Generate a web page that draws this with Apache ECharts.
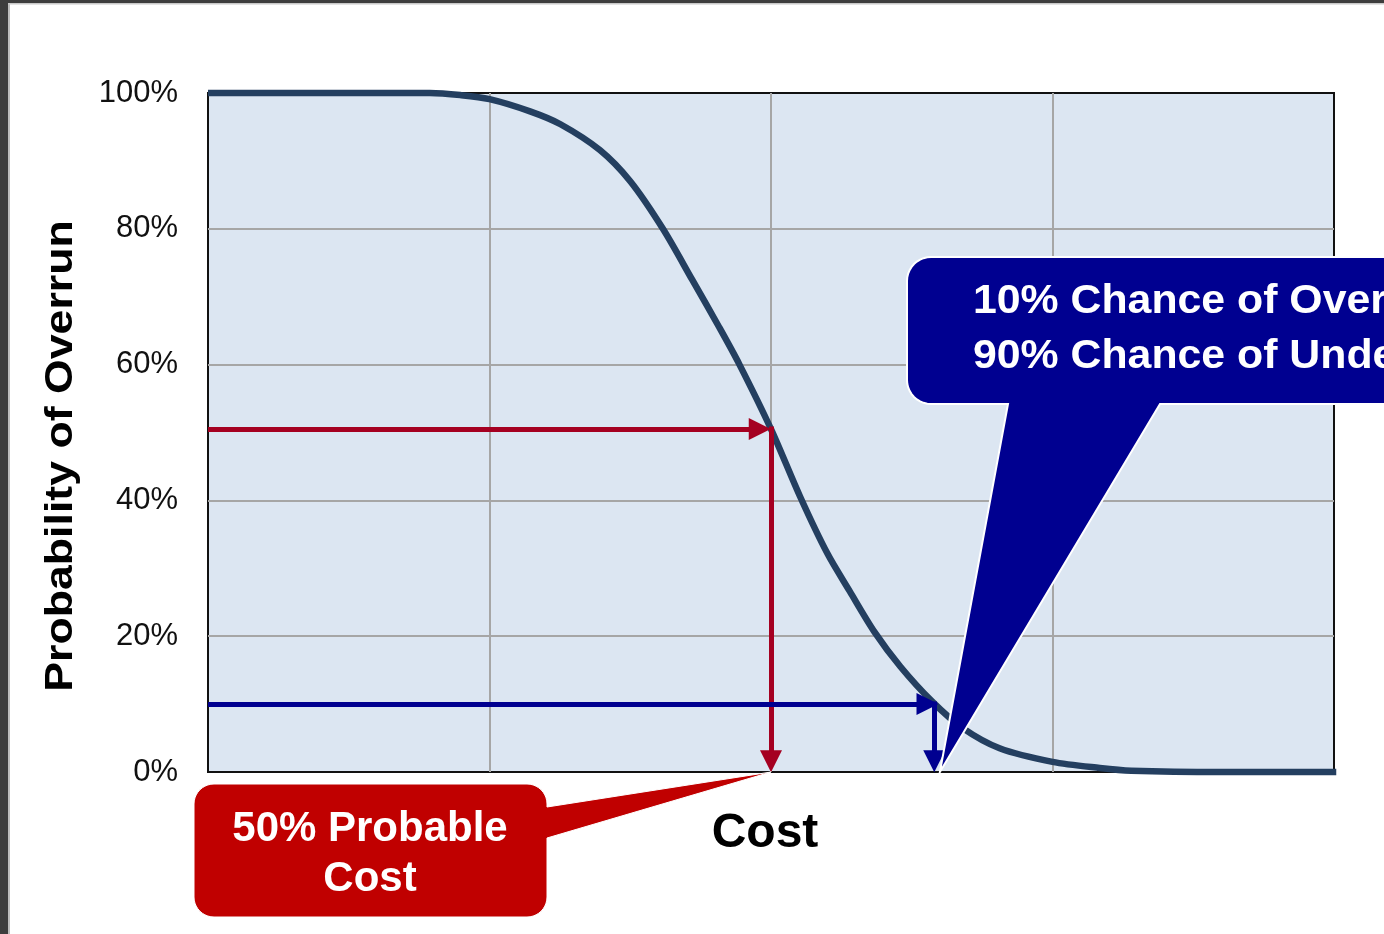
<!DOCTYPE html>
<html>
<head>
<meta charset="utf-8">
<script src="https://cdn.jsdelivr.net/npm/echarts@6/dist/echarts.min.js"></script>
<style>
html,body{margin:0;padding:0;background:#fff;}
#chart{width:1384px;height:934px;}
</style>
</head>
<body>
<div id="chart"></div>
<script>
// ---- data ----
const costX = [0, 10, 19.7, 22.4, 25, 28.6, 31.3, 34.8, 37.5, 40.4, 43.0, 45.4, 47.2, 50.0, 52.6, 55.0, 57.0, 59.2, 61.5, 64.3, 67.0, 70.3, 75, 79.2, 82, 90, 100.2];
const probY = [100, 100, 100, 99.7, 99.1, 97.3, 95.4, 91.6, 87.0, 80.0, 72.5, 65.5, 60.0, 50.5, 40.5, 32.2, 26.6, 20.6, 15.5, 10.4, 6.5, 3.5, 1.5, 0.6, 0.2, 0, 0];
const yTicks = [0, 20, 40, 60, 80, 100];
const p50Cost = 50, p50Prob = 50.5;
const p10Cost = 64.5, p10Prob = 10;
const redTip = [50, 0];
const blueTip = [65, 0];
const redText = ['50% Probable', 'Cost'];
const blueText = ['10% Chance of Overrun', '90% Chance of Underrun'];
const xName = 'Cost';
const yName = 'Probability of Overrun';

const chart = echarts.init(document.getElementById('chart'));
const FONT = '"Liberation Sans", Arial, sans-serif';

const option = {
  animation: false,
  backgroundColor: '#ffffff',
  grid: {
    left: 208, top: 93, width: 1126, height: 679,
    show: true, backgroundColor: '#DCE6F2', borderColor: '#111111', borderWidth: 2
  },
  xAxis: {
    type: 'value', min: 0, max: 100, interval: 25,
    axisLine: { show: false }, axisTick: { show: false }, axisLabel: { show: false },
    splitLine: { show: true, showMinLine: false, showMaxLine: false, lineStyle: { color: '#A6A6A6', width: 2 } }
  },
  yAxis: {
    type: 'value', min: 0, max: 100, interval: 20,
    axisLine: { show: false }, axisTick: { show: false },
    axisLabel: { formatter: v => yTicks.includes(v) ? v + '%' : '', fontSize: 31, color: '#111', fontFamily: FONT, margin: 30, padding: [6, 0, 0, 0] },
    splitLine: { show: true, showMinLine: false, showMaxLine: false, lineStyle: { color: '#A6A6A6', width: 2 } }
  },
  series: [
    {
      type: 'line', data: costX.map((x, i) => [x, probY[i]]),
      smooth: 0.3, showSymbol: false, symbol: 'none', clip: false,
      lineStyle: { color: '#243F60', width: 6.5 }, z: 3
    },
    {
      type: 'lines', coordinateSystem: 'cartesian2d', z: 4,
      symbol: ['none', 'triangle'], symbolSize: 22,
      lineStyle: { width: 5, opacity: 1 },
      data: [
        { coords: [[0, p50Prob], [p50Cost - 1.0, p50Prob]], lineStyle: { color: '#A50021' } },
        { coords: [[p50Cost, p50Prob + 0.4], [p50Cost, 1.6]], lineStyle: { color: '#A50021' } },
        { coords: [[0, p10Prob], [p10Cost - 0.6, p10Prob]], lineStyle: { color: '#000090' } },
        { coords: [[p10Cost, p10Prob + 0.4], [p10Cost, 1.6]], lineStyle: { color: '#000090' } }
      ]
    }
  ]
};
chart.setOption(option);

function callout(x0, y0, x1, y1, r, tail) {
  const pts = [];
  const arc = (cx, cy, s, e) => { for (let i = 0; i <= 10; i++) { const a = s + (e - s) * i / 10; pts.push([cx + r * Math.cos(a), cy + r * Math.sin(a)]); } };
  arc(x0 + r, y0 + r, Math.PI, 1.5 * Math.PI);
  arc(x1 - r, y0 + r, 1.5 * Math.PI, 2 * Math.PI);
  if (tail.side === 'right') { pts.push([x1, tail.a], tail.tip, [x1, tail.b]); }
  arc(x1 - r, y1 - r, 0, 0.5 * Math.PI);
  if (tail.side === 'bottom') { pts.push([tail.a, y1], tail.tip, [tail.b, y1]); }
  arc(x0 + r, y1 - r, 0.5 * Math.PI, Math.PI);
  return pts;
}

const rt = chart.convertToPixel({ gridIndex: 0 }, redTip);
const bt = chart.convertToPixel({ gridIndex: 0 }, blueTip);

chart.setOption({
  graphic: [
    { type: 'rect', shape: { x: 0, y: 0, width: 8, height: 934 }, style: { fill: '#3d3d3d' }, z: 200 },
    { type: 'rect', shape: { x: 8, y: 3, width: 2, height: 931 }, style: { fill: '#bdbdbd' }, z: 200 },
    { type: 'rect', shape: { x: 0, y: 0, width: 1384, height: 3 }, style: { fill: '#3d3d3d' }, z: 200 },
    { type: 'rect', shape: { x: 8, y: 3, width: 1376, height: 1.5 }, style: { fill: '#c8c8c8' }, z: 200 },
    { type: 'polygon', z: 100, shape: { points: callout(194, 784, 547, 917, 20, { side: 'right', a: 807, b: 838, tip: rt }) },
      style: { fill: '#C00000', stroke: '#ffffff', lineWidth: 1 } },
    { type: 'polygon', z: 100, shape: { points: callout(907, 257, 1440, 404, 24, { side: 'bottom', a: 1160, b: 1008, tip: bt }) },
      style: { fill: '#000090', stroke: '#ffffff', lineWidth: 2 } },
    { type: 'text', z: 101, x: 370, y: 829, style: { text: redText[0], fill: '#fff', font: 'bold 42px ' + FONT, align: 'center', verticalAlign: 'middle' } },
    { type: 'text', z: 101, x: 370, y: 879, style: { text: redText[1], fill: '#fff', font: 'bold 42px ' + FONT, align: 'center', verticalAlign: 'middle' } },
    { type: 'text', z: 101, x: 973, y: 302, scaleX: 1.07, style: { text: blueText[0], fill: '#fff', font: 'bold 40px ' + FONT, align: 'left', verticalAlign: 'middle' } },
    { type: 'text', z: 101, x: 973, y: 357, scaleX: 1.07, style: { text: blueText[1], fill: '#fff', font: 'bold 40px ' + FONT, align: 'left', verticalAlign: 'middle' } },
    { type: 'text', z: 101, x: 765, y: 834, style: { text: xName, fill: '#000', font: 'bold 48px ' + FONT, align: 'center', verticalAlign: 'middle' } },
    { type: 'text', z: 101, x: 61, y: 456, rotation: Math.PI / 2, scaleX: 1.16, style: { text: yName, fill: '#000', font: 'bold 38.5px ' + FONT, align: 'center', verticalAlign: 'middle' } }
  ]
});
</script>
</body>
</html>
